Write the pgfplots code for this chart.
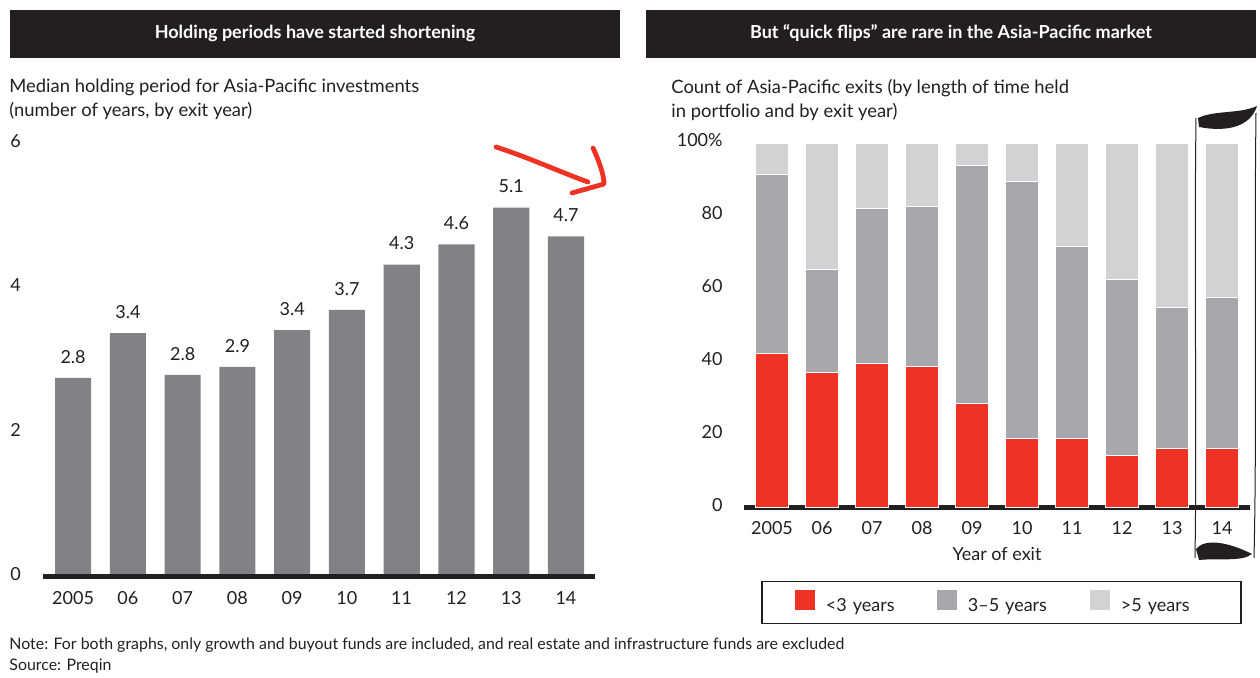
\documentclass[border=0pt]{standalone}
\usepackage{fontspec}
\setmainfont{Lato}
\usepackage{pgfplots}
\pgfplotsset{compat=1.18}
\definecolor{txt}{HTML}{231F20}
\definecolor{hdr}{HTML}{231F20}
\definecolor{bargray}{HTML}{818286}
\definecolor{bred}{HTML}{EE3224}
\definecolor{bmid}{HTML}{A7A8AB}
\definecolor{blight}{HTML}{D1D2D4}
\pgfplotstableread{
x y lab
0 2.76 2.8
1 3.38 3.4
2 2.80 2.8
3 2.91 2.9
4 3.42 3.4
5 3.70 3.7
6 4.33 4.3
7 4.61 4.6
8 5.12 5.1
9 4.72 4.7
}\holding
\pgfplotstableread{
x short mid long
0 42.4 49.2 8.4
1 37.1 28.3 34.6
2 39.7 42.5 17.8
3 38.7 43.9 17.4
4 28.7 65.1 6.2
5 19.1 70.4 10.5
6 19.1 52.7 28.2
7 14.4 48.4 37.2
8 16.4 38.7 44.9
9 16.4 41.3 42.3
}\exits
\newcommand{\fs}{\fontsize{9}{12}\selectfont}
\begin{document}
\begin{tikzpicture}[x=0.5pt,y=0.5pt,font=\fs,text=txt]
\path[use as bounding box] (0,0) rectangle (1260,678);
% headers
\fill[hdr] (10,620) rectangle (620,668);
\node[text=white,font=\bfseries\fontsize{9}{10}\selectfont] at (315,645) {Holding periods have started shortening};
\fill[hdr] (646,620) rectangle (1256,668);
\node[text=white,font=\bfseries\fontsize{9}{10}\selectfont] at (951,645) {But “quick flips” are rare in the Asia-Pacific market};
% subtitles
\node[anchor=north west,align=left,inner sep=0pt,font=\fontsize{9.2}{12}\selectfont] at (9,599) {Median holding period for Asia-Pacific investments\\(number of years, by exit year)};
\node[anchor=north west,align=left,inner sep=0pt,font=\fontsize{9.2}{12}\selectfont] at (671,599) {Count of Asia-Pacific exits (by length of time held\\in portfolio and by exit year)};

% left chart
\begin{axis}[
  at={(21.5pt,50.5pt)}, anchor=south west, scale only axis,
  width=276pt, height=216.5pt,
  xmin=-0.55, xmax=9.53, ymin=0, ymax=6,
  ybar, bar width=0.66,
  axis line style={draw=none}, major tick length=0pt,
  xtick={0,...,9}, xticklabels={2005,06,07,08,09,10,11,12,13,14},
  ytick={0,2,4,6}, yticklabels={0,2,4,6},
  /pgf/number format/assume math mode=true,
  xticklabel style={anchor=north,inner sep=0pt,yshift=-7pt,font=\fs},
  yticklabel style={anchor=west,inner sep=0pt,xshift=-16.5pt,yshift=1.5pt,font=\fs},
  nodes near coords, point meta=explicit symbolic,
  nodes near coords style={anchor=south,inner sep=0pt,yshift=7pt,font=\fs,text=txt},
  clip=false,
]
\addplot[fill=bargray,draw=none] table[x=x,y=y,meta=lab] {\holding};
\draw[line width=2.5pt,txt] (rel axis cs:0,0) -- (rel axis cs:1,0);
\end{axis}
% red arrow
\draw[bred,line width=2.4pt,line cap=round] (496,531) .. controls (530,520) and (560,506) .. (588,496);
\draw[bred,line width=2.4pt,line cap=round,line join=round] (593,530) .. controls (600,515) and (604,502) .. (604,494) -- (572,485);

% right chart
\begin{axis}[
  at={(372pt,85pt)}, anchor=south west, scale only axis,
  width=253pt, height=182.3pt,
  xmin=-0.56, xmax=9.56, ymin=0, ymax=100,
  ybar stacked, bar width=0.65,
  axis line style={draw=none}, major tick length=0pt,
  xtick={0,...,9}, xticklabels={2005,06,07,08,09,10,11,12,13,14},
  ytick={0,20,40,60,80,100}, yticklabels={0,20,40,60,80,100\%},
  xticklabel style={anchor=north,inner sep=0pt,yshift=-6.5pt,font=\fs},
  yticklabel style={anchor=east,inner sep=0pt,xshift=-10.5pt,yshift=1.5pt,font=\fs},
  xlabel={Year of exit},
  xlabel style={anchor=north,inner sep=0pt,at={(axis description cs:0.5,0)},yshift=-19.5pt,font=\fs},
  clip=false,
  legend columns=3,
  legend style={at={(axis description cs:0.034,-0.199)},anchor=north west,
    draw=txt,line width=0.7pt,inner xsep=16.5pt,inner ysep=4.5pt,font=\fs,
    nodes={inner sep=0pt},
    /tikz/every odd column/.append style={column sep=5.5pt},
    /tikz/every even column/.append style={column sep=0pt}},
  legend image code/.code={\fill[#1,draw=none] (0pt,-2pt) rectangle (10pt,8pt);},
]
\addplot[fill=bred,draw=white,line width=0.5pt] table[x=x,y=short] {\exits};
\addlegendentry[text width=55.5pt]{<3 years}
\addplot[fill=bmid,draw=white,line width=0.5pt] table[x=x,y=mid] {\exits};
\addlegendentry[text width=61pt]{3--5 years}
\addplot[fill=blight,draw=white,line width=0.5pt] table[x=x,y=long] {\exits};
\addlegendentry[text width=43.5pt]{>5 years}
\draw[line width=2.5pt,txt] (rel axis cs:0,0) -- (rel axis cs:1,0);
\end{axis}
% frame around 2014
\draw[txt,line width=0.5pt] (1196,560) .. controls (1194,400) and (1197,250) .. (1195,120);
\draw[txt,line width=0.5pt] (1256,565) .. controls (1254,400) and (1257,250) .. (1254,120);
\fill[txt] (1198,560) .. controls (1215,568) and (1240,564) .. (1257,572) .. controls (1250,550) and (1225,546) .. (1199,551) -- cycle;
\fill[txt] (1196,129) .. controls (1205,140) and (1228,136) .. (1252,124) .. controls (1242,116) and (1220,120) .. (1199,118) -- cycle;

% footnotes
\node[anchor=west,inner sep=0pt,font=\fontsize{7.95}{9}\selectfont] at (9,33) {Note: For both graphs, only growth and buyout funds are included, and real estate and infrastructure funds are excluded};
\node[anchor=west,inner sep=0pt,font=\fontsize{7.95}{9}\selectfont] at (9,12) {Source: Preqin};
\end{tikzpicture}
\end{document}
